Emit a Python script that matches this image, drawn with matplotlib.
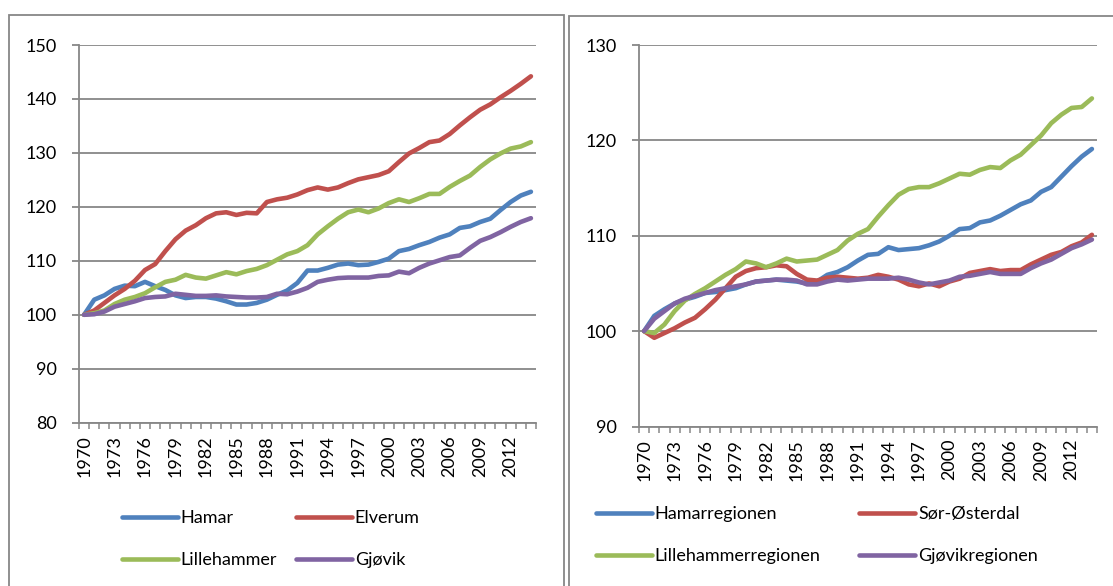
import numpy as np
import matplotlib
matplotlib.use("Agg")
import matplotlib.pyplot as plt
from matplotlib.patches import Rectangle

plt.rcParams['font.family'] = ['Lato', 'DejaVu Sans']

years = list(range(1970, 2015))

# Left panel: municipalities (index 1970 = 100)
hamar = [100, 102.8, 103.6, 104.8, 105.4, 105.3, 106.1, 105.3, 104.6, 103.6,
         103.1, 103.3, 103.3, 103.0, 102.5, 101.9, 101.9, 102.2, 102.8, 103.7,
         104.5, 105.9, 108.2, 108.2, 108.7, 109.3, 109.5, 109.2, 109.3, 109.8,
         110.4, 111.8, 112.2, 112.9, 113.5, 114.3, 114.9, 116.1, 116.4, 117.2,
         117.8, 119.4, 120.9, 122.1, 122.8]
elverum = [100, 100.8, 102.2, 103.6, 104.8, 106.3, 108.3, 109.4, 111.8, 114.0,
           115.6, 116.6, 117.9, 118.8, 119.0, 118.5, 118.9, 118.8, 120.9, 121.4,
           121.7, 122.3, 123.1, 123.6, 123.2, 123.6, 124.4, 125.1, 125.5, 125.9,
           126.6, 128.3, 129.9, 130.9, 132.0, 132.3, 133.5, 135.1, 136.6, 138.0,
           139.0, 140.3, 141.5, 142.8, 144.2]
lillehammer = [100, 100.3, 100.8, 102.0, 102.8, 103.3, 104.0, 105.1, 106.1, 106.5,
               107.4, 106.9, 106.7, 107.3, 107.9, 107.5, 108.1, 108.5, 109.2, 110.2,
               111.2, 111.8, 112.9, 114.9, 116.4, 117.8, 119.0, 119.5, 119.0, 119.7,
               120.7, 121.4, 120.9, 121.6, 122.4, 122.4, 123.7, 124.8, 125.8, 127.4,
               128.8, 129.9, 130.8, 131.2, 132.0]
gjovik = [100, 100.1, 100.6, 101.5, 102.0, 102.5, 103.1, 103.3, 103.4, 103.9,
          103.7, 103.5, 103.5, 103.6, 103.4, 103.3, 103.2, 103.2, 103.3, 103.9,
          103.8, 104.3, 105.0, 106.1, 106.5, 106.8, 106.9, 106.9, 106.9, 107.2,
          107.3, 108.0, 107.7, 108.7, 109.5, 110.1, 110.7, 111.0, 112.4, 113.7,
          114.4, 115.3, 116.3, 117.2, 117.9]

# Right panel: regions
hamarreg = [100, 101.6, 102.3, 102.9, 103.3, 103.6, 104.0, 104.1, 104.3, 104.5,
            104.9, 105.2, 105.3, 105.4, 105.3, 105.2, 105.0, 105.2, 105.9, 106.2,
            106.7, 107.4, 108.0, 108.1, 108.8, 108.5, 108.6, 108.7, 109.0, 109.4,
            110.0, 110.7, 110.8, 111.4, 111.6, 112.1, 112.7, 113.3, 113.7, 114.6,
            115.1, 116.2, 117.3, 118.3, 119.1]
sorosterdal = [100, 99.3, 99.8, 100.3, 100.9, 101.4, 102.3, 103.3, 104.5, 105.7,
               106.3, 106.6, 106.7, 106.9, 106.8, 106.0, 105.4, 105.3, 105.6, 105.7,
               105.6, 105.5, 105.6, 105.9, 105.7, 105.4, 104.9, 104.7, 105.0, 104.7,
               105.2, 105.5, 106.1, 106.3, 106.5, 106.3, 106.4, 106.4, 107.0, 107.5,
               108.0, 108.3, 108.9, 109.3, 110.1]
lillehammerreg = [100, 99.8, 100.7, 102.1, 103.2, 103.9, 104.5, 105.2, 105.9, 106.5,
                  107.3, 107.1, 106.7, 107.1, 107.6, 107.3, 107.4, 107.5, 108.0, 108.5,
                  109.5, 110.2, 110.7, 112.0, 113.2, 114.3, 114.9, 115.1, 115.1, 115.5,
                  116.0, 116.5, 116.4, 116.9, 117.2, 117.1, 117.9, 118.5, 119.5, 120.5,
                  121.8, 122.7, 123.4, 123.5, 124.4]
gjovikreg = [100, 101.3, 102.1, 102.9, 103.4, 103.7, 104.0, 104.3, 104.5, 104.7,
             104.9, 105.2, 105.3, 105.4, 105.4, 105.3, 104.9, 104.9, 105.2, 105.4,
             105.3, 105.4, 105.5, 105.5, 105.5, 105.6, 105.4, 105.1, 104.9, 105.1,
             105.3, 105.7, 105.8, 106.0, 106.2, 106.0, 106.0, 106.0, 106.6, 107.1,
             107.5, 108.1, 108.7, 109.1, 109.6]

colors = ['#4F81BD', '#C0504D', '#9BBB59', '#8064A2']
grid_col = '#878787'

W, H = 1113, 586
fig = plt.figure(figsize=(W / 100, H / 100), dpi=100)
fig.patch.set_facecolor('white')

# panel frames
fig.add_artist(Rectangle((9 / W, -0.05), (564 - 9) / W, 1.05 - 15.5 / H, transform=fig.transFigure,
                         fill=False, edgecolor=grid_col, linewidth=1.3))
fig.add_artist(Rectangle((569 / W, -0.05), 0.6, 1.05 - 16 / H, transform=fig.transFigure,
                         fill=False, edgecolor=grid_col, linewidth=1.3))


def make_panel(rect, series, labels, ylim, yticks, leg_anchor, colspace):
    ax = fig.add_axes(rect)
    x = np.arange(len(years))
    for vals, c, lab in zip(series, colors, labels):
        ax.plot(x, vals, color=c, lw=3.3, label=lab,
                solid_capstyle='round', solid_joinstyle='round')
    ax.set_xlim(-0.5, len(years) - 0.5)
    ax.set_ylim(*ylim)
    ax.set_yticks(yticks)
    ax.set_yticklabels([str(v) for v in yticks])
    ax.yaxis.grid(True, color=grid_col, lw=1.3)
    ax.set_axisbelow(True)
    major = x[::3]
    ax.set_xticks(major)
    ax.set_xticklabels([str(years[i]) for i in major], rotation=90)
    ax.set_xticks(np.arange(-0.5, len(years)), minor=True)
    ax.tick_params(axis='x', which='major', length=0, pad=9, labelsize=13)
    ax.tick_params(axis='x', which='minor', length=4, width=1.1, color=grid_col, direction='out')
    ax.tick_params(axis='y', length=5, width=1.3, color=grid_col, pad=11, labelsize=13)
    for s in ['top', 'right']:
        ax.spines[s].set_visible(False)
    for s in ['left', 'bottom']:
        ax.spines[s].set_color(grid_col)
        ax.spines[s].set_linewidth(1.3)
    # legend filled row by row, like the original
    h, l = ax.get_legend_handles_labels()
    order = [0, 2, 1, 3]
    fig.legend([h[i] for i in order], [l[i] for i in order], loc='upper left',
               bbox_to_anchor=leg_anchor, bbox_transform=fig.transFigure, ncol=2,
               frameon=False, fontsize=13, handlelength=3.1, handletextpad=0.15,
               columnspacing=colspace, labelspacing=1.45, borderpad=0, borderaxespad=0)
    return ax


make_panel([79 / W, 1 - 422.7 / H, (536 - 79) / W, (422.7 - 45) / H],
           [hamar, elverum, lillehammer, gjovik],
           ['Hamar', 'Elverum', 'Lillehammer', 'Gjøvik'],
           (80, 150), [80, 90, 100, 110, 120, 130, 140, 150],
           (122 / W, 1 - 510 / H), 1.05)

make_panel([639 / W, 1 - 426.5 / H, (1097 - 639) / W, (426.5 - 45) / H],
           [hamarreg, sorosterdal, lillehammerreg, gjovikreg],
           ['Hamarregionen', 'Sør-Østerdal', 'Lillehammerregionen', 'Gjøvikregionen'],
           (90, 130), [90, 100, 110, 120, 130],
           (596 / W, 1 - 506 / H), 2.15)

fig.savefig('out.png', dpi=100)
